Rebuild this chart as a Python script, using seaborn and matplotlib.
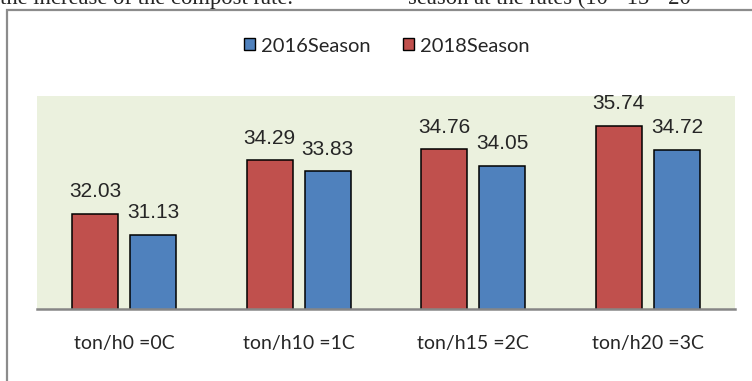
import pandas as pd
import seaborn as sns
import matplotlib.pyplot as plt
from matplotlib.patches import Patch, Rectangle

# data
categories = ["ton/h0 =0C", "ton/h10 =1C", "ton/h15 =2C", "ton/h20 =3C"]
season_2018 = [32.03, 34.29, 34.76, 35.74]
season_2016 = [31.13, 33.83, 34.05, 34.72]
series_names = ["2018Season", "2016Season"]

RED = "#C0504D"
BLUE = "#4F81BD"

df = pd.DataFrame({
    "cat": categories * 2,
    "value": season_2018 + season_2016,
    "season": [series_names[0]] * 4 + [series_names[1]] * 4,
})

sns.set_style("white")
plt.rcParams["font.family"] = ["Liberation Sans", "DejaVu Sans"]

fig = plt.figure(figsize=(7.52, 3.81), dpi=100)
ax = fig.add_axes([37 / 752, 1 - 309 / 381, 698 / 752, 213 / 381])
ax.set_facecolor("#EBF1DE")

sns.barplot(data=df, x="cat", y="value", hue="season", hue_order=series_names,
            palette=[RED, BLUE], width=0.667, gap=0.21, edgecolor="black",
            linewidth=1.1, saturation=1, ax=ax, legend=False)

for c in ax.containers:
    ax.bar_label(c, fmt="%.2f", padding=9, fontsize=15)

ax.set_ylim(28, 37)
ax.set_xlim(-0.5, 3.5)
ax.set_yticks([])
ax.set_xlabel("")
ax.set_ylabel("")
for s in ["top", "right", "left"]:
    ax.spines[s].set_visible(False)
ax.spines["bottom"].set_color("#868686")
ax.spines["bottom"].set_linewidth(1.8)
ax.tick_params(axis="x", length=0, pad=19)
for lbl in ax.get_xticklabels():
    lbl.set_family(["Lato", "DejaVu Sans"])
    lbl.set_fontsize(14)

handles = [Patch(facecolor=BLUE, edgecolor="black", linewidth=1),
           Patch(facecolor=RED, edgecolor="black", linewidth=1)]
fig.legend(handles, ["2016Season", "2018Season"], loc="center",
           bbox_to_anchor=(387 / 752, 1 - 46 / 381), ncol=2, frameon=False,
           prop={"family": ["Lato", "DejaVu Sans"], "size": 14.5},
           handlelength=0.55, handleheight=0.55, handletextpad=0.3,
           columnspacing=1.6)

# chart frame, cut off at right and bottom
fig.patches.append(Rectangle((7 / 752, -0.1), 1.1, 1 - 9.5 / 381 + 0.1,
                             transform=fig.transFigure, fill=False,
                             edgecolor="#8C8C8C", linewidth=1.6))

# page text above the chart, cropped at the top
fig.text(0.0, 1 - 4 / 381, "the increase of the compost rate.", family="Liberation Serif",
         fontsize=16.3, va="baseline", ha="left")
fig.text(408 / 752, 1 - 4 / 381, "season at the rates (10 - 15 - 20", family="Liberation Serif",
         fontsize=16.3, va="baseline", ha="left")

fig.savefig("out.png", dpi=100)
